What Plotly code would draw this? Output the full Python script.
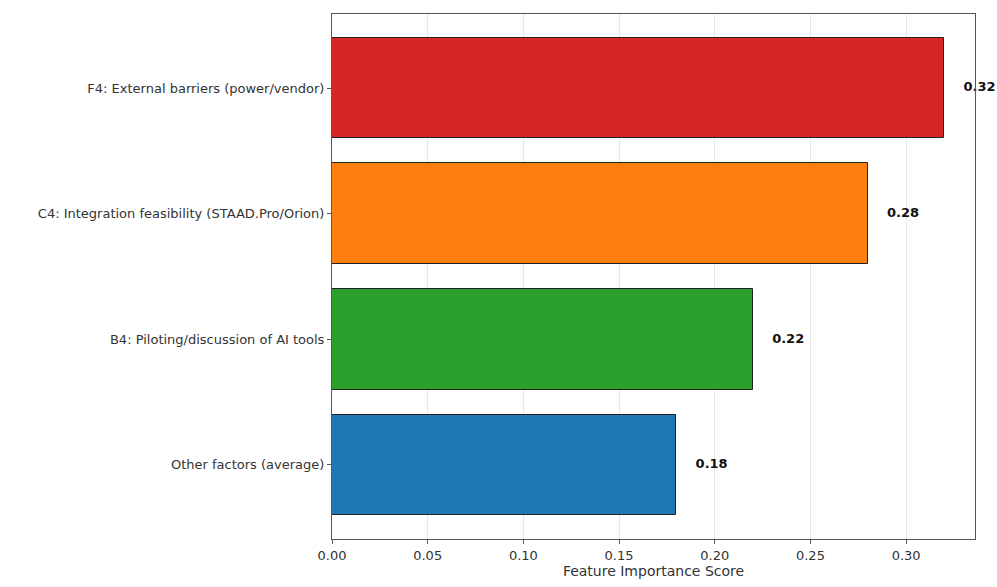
import plotly.graph_objects as go

categories = ["Other factors (average)", "B4: Piloting/discussion of AI tools",
              "C4: Integration feasibility (STAAD.Pro/Orion)", "F4: External barriers (power/vendor)"]
values = [0.18, 0.22, 0.28, 0.32]
colors = ["#1f77b4", "#2ca02c", "#ff7f0e", "#d62728"]
x_ticks = [0.00, 0.05, 0.10, 0.15, 0.20, 0.25, 0.30]
x_title = "Feature Importance Score"

ypos = list(range(len(categories)))
FONT = "DejaVu Sans"

fig = go.Figure()
fig.add_trace(go.Bar(
    x=values, y=ypos, orientation="h", width=0.8,
    marker=dict(color=colors, line=dict(color="#222222", width=1)),
    showlegend=False, hoverinfo="skip",
))
fig.add_trace(go.Scatter(
    x=[v + 0.01 for v in values], y=ypos, mode="text",
    text=[f"<b>{v:.2f}</b>" for v in values], textposition="middle right",
    textfont=dict(family=FONT, size=13, color="#111111"),
    cliponaxis=False, showlegend=False, hoverinfo="skip",
))

fig.update_layout(
    width=997, height=587,
    margin=dict(l=332, r=22, t=14, b=43),
    paper_bgcolor="white", plot_bgcolor="white",
    font=dict(family=FONT, size=13, color="#333333"),
    bargap=0,
)
fig.update_xaxes(
    range=[0, 0.336], tickvals=x_ticks, ticktext=[f"{t:.2f}" for t in x_ticks],
    showgrid=True, gridcolor="rgba(176,176,176,0.3)", gridwidth=0.8,
    showline=True, linecolor="#555555", linewidth=1, mirror=True,
    ticks="outside", ticklen=4, tickcolor="#555555", zeroline=False,
    tickfont=dict(family=FONT, size=13),
    title=dict(text=x_title, font=dict(family=FONT, size=14), standoff=3),
)
fig.update_yaxes(
    range=[-0.59, 3.59], tickvals=ypos, ticktext=categories,
    showgrid=False, showline=True, linecolor="#555555", linewidth=1, mirror=True,
    ticks="outside", ticklen=4, tickcolor="#555555", zeroline=False,
    tickfont=dict(family=FONT, size=13),
)

fig.write_html("out.html")
